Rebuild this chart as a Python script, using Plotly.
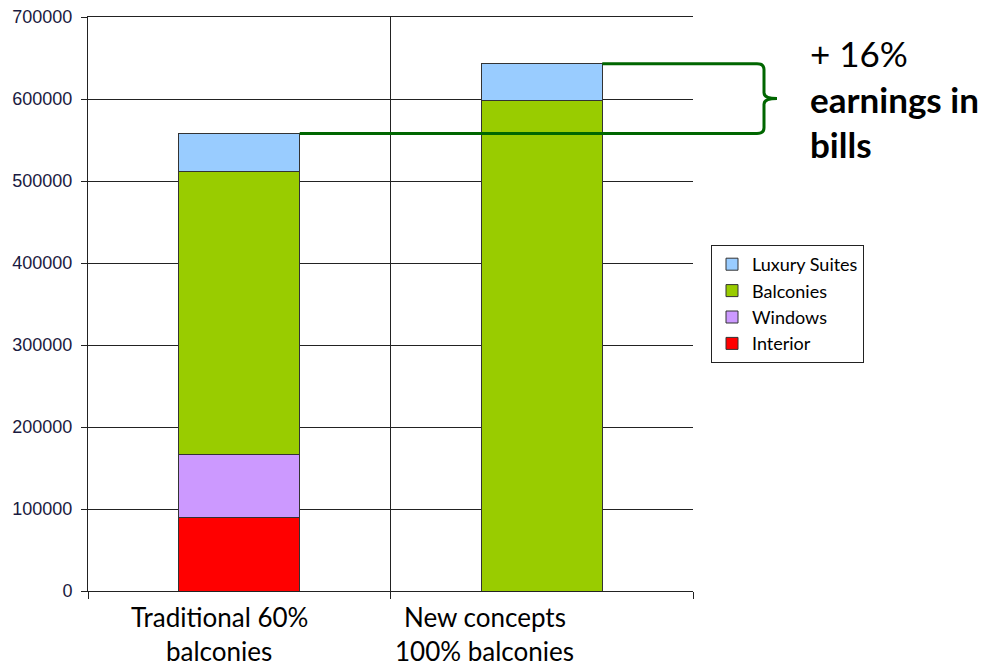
import plotly.graph_objects as go

categories = ['Traditional 60% balconies', 'New concepts 100% balconies']
category_labels = ['Traditional 60%<br>balconies', 'New concepts<br>100% balconies']
interior = [90000, None]
windows = [76000, None]
balconies = [346000, 598000]
luxury = [46000, 45000]

series = [
    ('Interior', interior, '#FF0000'),
    ('Windows', windows, '#CC99FF'),
    ('Balconies', balconies, '#99CC00'),
    ('Luxury Suites', luxury, '#99CCFF'),
]

# page body adds an 8px margin, so the figure is drawn 8px smaller and
# every position below is given in window pixels
OFF = 8
W, H = 987 - OFF, 667 - OFF
L, T, PW, PH = 88 - OFF, 17 - OFF, 605, 574
R, B = W - L - PW, H - T - PH


def px_x(px):
    return (px - OFF - L) / PW


def px_y(py):
    return (T + PH - (py - OFF)) / PH


CAL = 'Lato, Open Sans, sans-serif'
BAR_W = 0.4

fig = go.Figure()
for rank, (name, vals, color) in enumerate(series):
    fig.add_trace(go.Bar(
        x=categories, y=vals, name=name, width=BAR_W,
        marker={'color': color, 'line': {'color': '#333333', 'width': 1}},
        legendrank=len(series) - rank,
    ))

totals = [sum(v[i] or 0 for _, v, _ in series) for i in range(len(categories))]
top, bot = max(totals), min(totals)
mid = 0.5 * (top + bot)
x_new = (1 + 0.5 + BAR_W / 2) / 2
x_trad = (0 + 0.5 + BAR_W / 2) / 2
xe, xc, xp = px_x(757), px_x(764), px_x(777)
r = 7000
path = (f'M {x_new},{top} L {xe},{top} Q {xc},{top} {xc},{top - r} '
        f'L {xc},{mid + r} Q {xc},{mid} {xp},{mid} Q {xc},{mid} {xc},{mid - r} '
        f'L {xc},{bot + r} Q {xc},{bot} {xe},{bot} L {x_trad},{bot}')
fig.add_shape(type='path', path=path, xref='paper', yref='y',
              line={'color': '#006600', 'width': 3}, layer='above')

fig.add_annotation(text='+ 16%<br><b>earnings in</b><br><b>bills</b>',
                   x=px_x(808), y=px_y(30), xref='paper', yref='paper',
                   xanchor='left', yanchor='top', align='left', showarrow=False,
                   font={'family': CAL, 'size': 35, 'color': 'black'})

# category labels sit off-centre in the original, so they are placed as text
for lab, cx in zip(category_labels, [219, 485]):
    for k, line in enumerate(lab.split('<br>')):
        fig.add_annotation(text=line, x=px_x(cx), y=px_y(599 + 34 * k),
                           xref='paper', yref='paper',
                           xanchor='center', yanchor='top', showarrow=False,
                           font={'family': CAL, 'size': 26, 'color': 'black'})

fig.update_layout(
    width=W, height=H,
    margin={'l': L, 'r': R, 't': T, 'b': B, 'autoexpand': False},
    paper_bgcolor='white', plot_bgcolor='white',
    barmode='stack',
    showlegend=True,
    legend={
        'x': px_x(711), 'y': px_y(245), 'xanchor': 'left', 'yanchor': 'top',
        'traceorder': 'normal',
        'bordercolor': '#222222', 'borderwidth': 1,
        'font': {'family': CAL, 'size': 18, 'color': 'black'},
    },
    xaxis={
        'type': 'category', 'range': [-0.5, 1.5], 'automargin': False,
        'tickson': 'boundaries', 'ticks': 'outside', 'ticklen': 7,
        'showticklabels': False,
        'tickcolor': '#222222', 'showgrid': True, 'gridcolor': '#222222', 'gridwidth': 1,
        'showline': True, 'linecolor': '#222222', 'linewidth': 1, 'mirror': True,
    },
    yaxis={
        'range': [0, 700000], 'dtick': 100000, 'tickformat': 'd', 'automargin': False,
        'ticks': 'outside', 'ticklen': 6, 'tickcolor': '#222222', 'ticklabelstandoff': 5,
        'ticklabeloverflow': 'allow',
        'showgrid': True, 'gridcolor': '#222222', 'gridwidth': 1,
        'showline': True, 'linecolor': '#222222', 'linewidth': 1,
        'zeroline': False,
        'tickfont': {'family': 'Liberation Sans, Arial, sans-serif', 'size': 18, 'color': '#1a1a40'},
    },
)

fig.write_html('out.html')
